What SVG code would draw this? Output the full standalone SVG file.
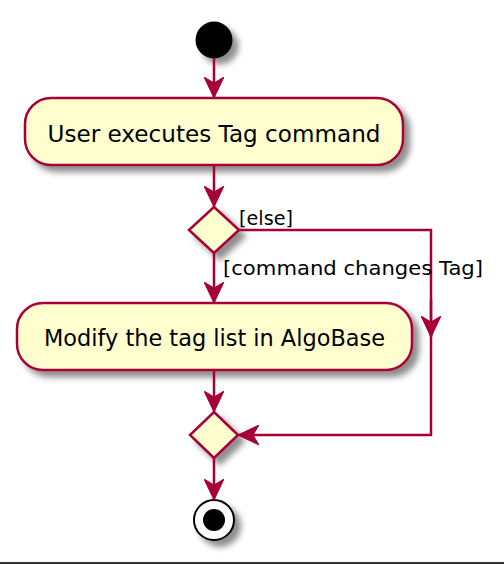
<svg xmlns="http://www.w3.org/2000/svg" width="504" height="564" viewBox="0 0 504 564">
<defs>
<filter id="sh" x="-20%" y="-20%" width="150%" height="160%">
<feGaussianBlur in="SourceAlpha" stdDeviation="3"/>
<feOffset dx="6" dy="6" result="b"/>
<feComponentTransfer><feFuncA type="linear" slope="0.45"/></feComponentTransfer>
<feMerge><feMergeNode/><feMergeNode in="SourceGraphic"/></feMerge>
</filter>
<marker id="ah" viewBox="0 0 22 20" refX="21" refY="10" markerWidth="22" markerHeight="20" markerUnits="userSpaceOnUse" orient="auto">
<polygon points="0,0 21,10 0,20 6,10" fill="#A80036" stroke="#A80036" stroke-width="1"/>
</marker>
</defs>
<style>
.act{fill:#FEFECE;stroke:#A80036;stroke-width:2.5}
.c{fill:none;stroke:#A80036;stroke-width:2.5}
.t{font-family:"DejaVu Sans",Verdana,sans-serif;fill:#000}
</style>
<rect width="504" height="564" fill="#fff"/>
<g id="start"><circle cx="214" cy="40" r="18.5" fill="#000" filter="url(#sh)"/></g>
<g id="act1">
<rect class="act" x="25" y="98" width="378" height="67" rx="26" ry="26" filter="url(#sh)"/>
<text class="t" x="214" y="142" font-size="23.5" text-anchor="middle" textLength="333" lengthAdjust="spacingAndGlyphs">User executes Tag command</text>
</g>
<g id="dec1"><polygon class="act" points="214,207 239,230 214,253 189,230" filter="url(#sh)"/></g>
<g id="act2">
<rect class="act" x="17" y="303" width="395" height="67" rx="26" ry="26" filter="url(#sh)"/>
<text class="t" x="214.5" y="346" font-size="23.5" text-anchor="middle" textLength="341" lengthAdjust="spacingAndGlyphs">Modify the tag list in AlgoBase</text>
</g>
<g id="merge"><polygon class="act" points="214,412 238,435 214,458 190,435" filter="url(#sh)"/></g>
<g id="end">
<circle cx="214" cy="520" r="20" fill="#fff" stroke="#000" stroke-width="2" filter="url(#sh)"/>
<circle cx="214" cy="520" r="11" fill="#000"/>
</g>
<g id="connectors">
<line class="c" x1="214" y1="58" x2="214" y2="98" marker-end="url(#ah)"/>
<line class="c" x1="214" y1="165" x2="214" y2="207" marker-end="url(#ah)"/>
<line class="c" x1="214" y1="253" x2="214" y2="303" marker-end="url(#ah)"/>
<line class="c" x1="214" y1="370" x2="214" y2="412" marker-end="url(#ah)"/>
<line class="c" x1="214" y1="458" x2="214" y2="500" marker-end="url(#ah)"/>
<polyline class="c" points="239,230 431,230 431,336"/>
<line class="c" x1="431" y1="300" x2="431" y2="337" marker-end="url(#ah)"/>
<polyline class="c" points="431,330 431,435 238,435" marker-end="url(#ah)"/>
<text class="t" x="239" y="225" font-size="20" textLength="54" lengthAdjust="spacingAndGlyphs">[else]</text>
<text class="t" x="223" y="275" font-size="20" textLength="260" lengthAdjust="spacingAndGlyphs">[command changes Tag]</text>
</g>
<rect x="0" y="562" width="504" height="2" fill="#333"/>
</svg>
